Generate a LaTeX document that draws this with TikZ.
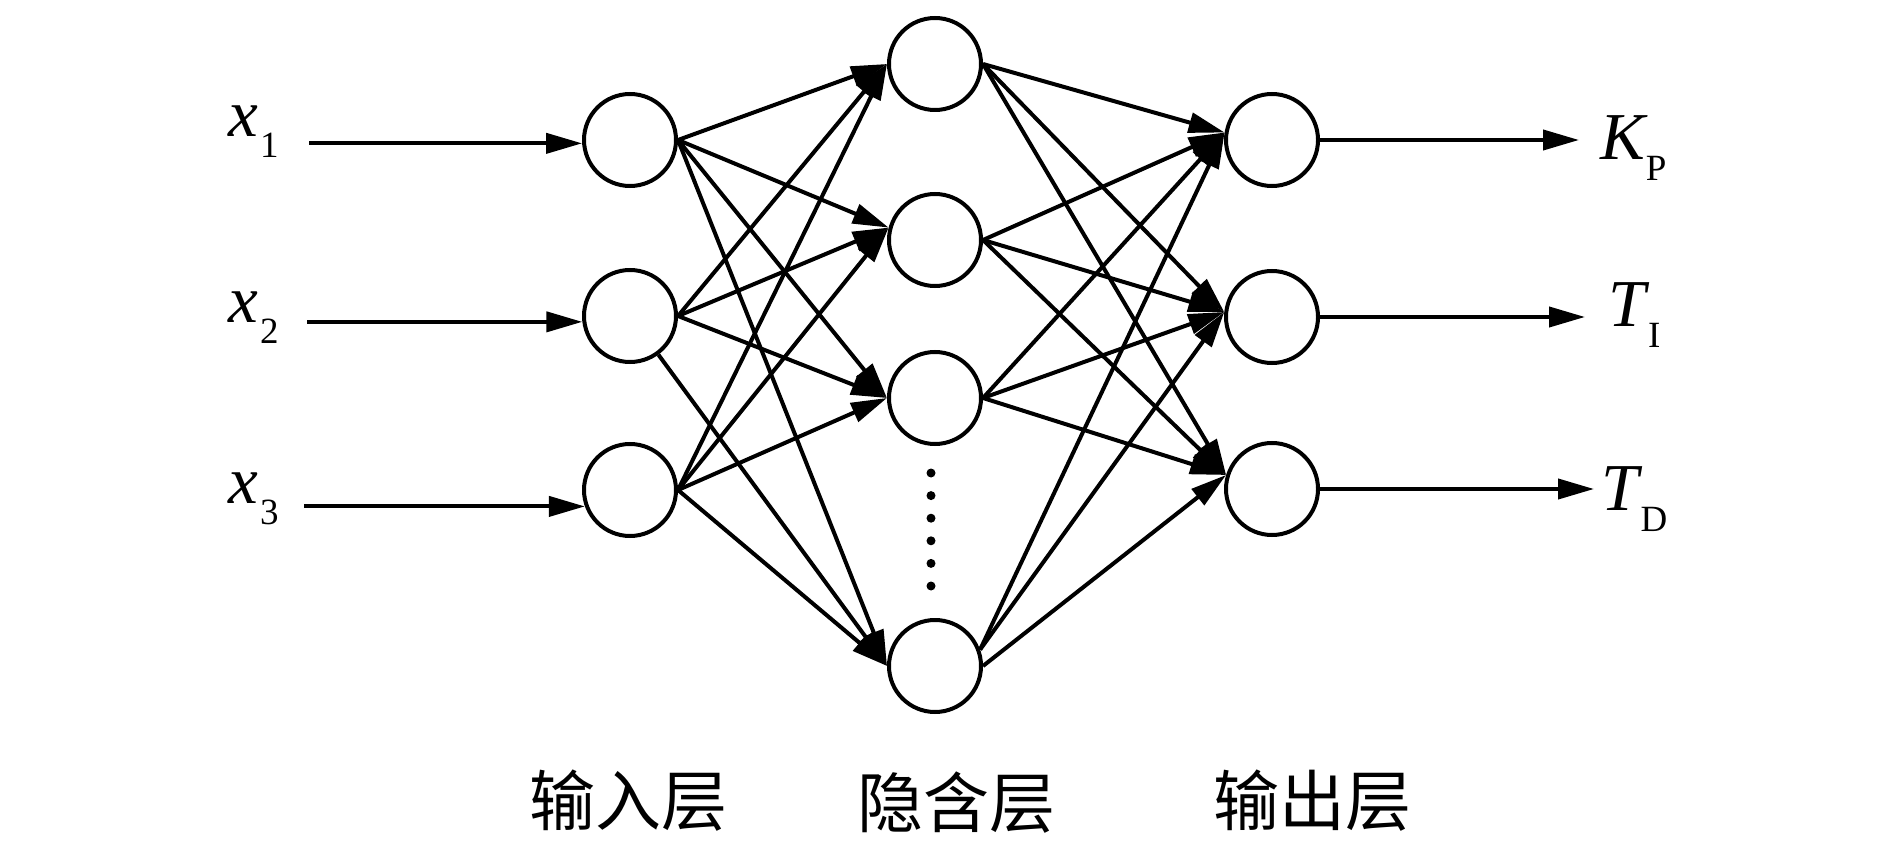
\documentclass[tikz,border=0pt]{standalone}
\usepackage{fontspec}
\setmainfont{Liberation Serif}
\newfontfamily\cjkfont{Noto Sans CJK SC}
\usetikzlibrary{arrows.meta}
\newcommand{\vsub}[3]{\fontsize{33.5pt}{34pt}\selectfont\textit{#1}\kern#3\raisebox{-10.5pt}{\fontsize{18.5pt}{19pt}\selectfont #2}}
\begin{document}
\begin{tikzpicture}[x=0.5pt,y=-0.5pt,
  neuron/.style={circle,draw,line width=2pt,minimum size=46pt,inner sep=0pt},
  arr/.style={line width=2pt,-{Triangle[length=18pt,width=10pt]}},
  lbl/.style={inner sep=0pt,anchor=base west},
  layer/.style={font=\cjkfont\fontsize{33pt}{33pt}\selectfont,inner sep=0pt}]
\useasboundingbox (0,0) rectangle (1890,850);
% input layer
\node[neuron] (i1) at (630,140) {};
\node[neuron] (i2) at (630,316) {};
\node[neuron] (i3) at (630,490) {};
% hidden layer
\node[neuron] (h1) at (935,64) {};
\node[neuron] (h2) at (935,240) {};
\node[neuron] (h3) at (935,398) {};
\node[neuron] (h4) at (935,666) {};
% output layer
\node[neuron] (o1) at (1272,140) {};
\node[neuron] (o2) at (1272,317) {};
\node[neuron] (o3) at (1272,489) {};
% dots
\foreach \k in {0,...,5} \fill (931,{473+22.6*\k}) circle[radius=4.5];
% input labels
\node[lbl] (x1) at (228,137) {\vsub{x}{1}{1pt}};
\node[lbl] (x2) at (228,322) {\vsub{x}{2}{1pt}};
\node[lbl] (x3) at (228,503) {\vsub{x}{3}{1pt}};
\coordinate (s1) at (309,0);
\coordinate (s2) at (307,0);
\coordinate (s3) at (304,0);
\draw[arr] (s1 |- i1.184) -- (i1.184);
\draw[arr] (s2 |- i2.187) -- (i2.187);
\draw[arr] (s3 |- i3.200) -- (i3.200);
% output labels
\node[lbl] (kp) at (1600,160) {\vsub{K}{P}{-1pt}};
\node[lbl] (ti) at (1608,327) {\vsub{T}{I}{-0.75pt}};
\node[lbl] (td) at (1601,510) {\vsub{T}{D}{-1pt}};
\coordinate (e1) at (1579,140);
\coordinate (e2) at (1585,317);
\coordinate (e3) at (1594,489);
\draw[arr] (o1.east) -- (e1);
\draw[arr] (o2.east) -- (e2);
\draw[arr] (o3.east) -- (e3);
% input -> hidden
\foreach \i in {i1,i2,i3}{
  \draw[arr] (\i.east) -- (h1.west);
  \draw[arr] (\i.east) -- (h2.165);
  \draw[arr] (\i.east) -- (h3.west);
}
\draw[arr] (i1.east) -- (h4.west);
\draw[arr] (i2) -- (h4.west);
\draw[arr] (i3.east) -- (h4.west);
% hidden -> output
\foreach \h in {h1,h2,h3}{
  \draw[arr] (\h.east) -- (o1.171);
  \draw[arr] (\h.east) -- (o2.174);
  \draw[arr] (\h.east) -- (o3.163);
}
\draw[arr] (h4.20) -- (o1.171);
\draw[arr] (h4.20) -- (o2.174);
\draw[arr] (h4.east) -- (o3.163);
% layer names
\node[layer] (n1) at (628,801) {输入层};
\node[layer] (n2) at (956,803) {隐含层};
\node[layer] (n3) at (1312,801) {输出层};
\end{tikzpicture}
\end{document}
